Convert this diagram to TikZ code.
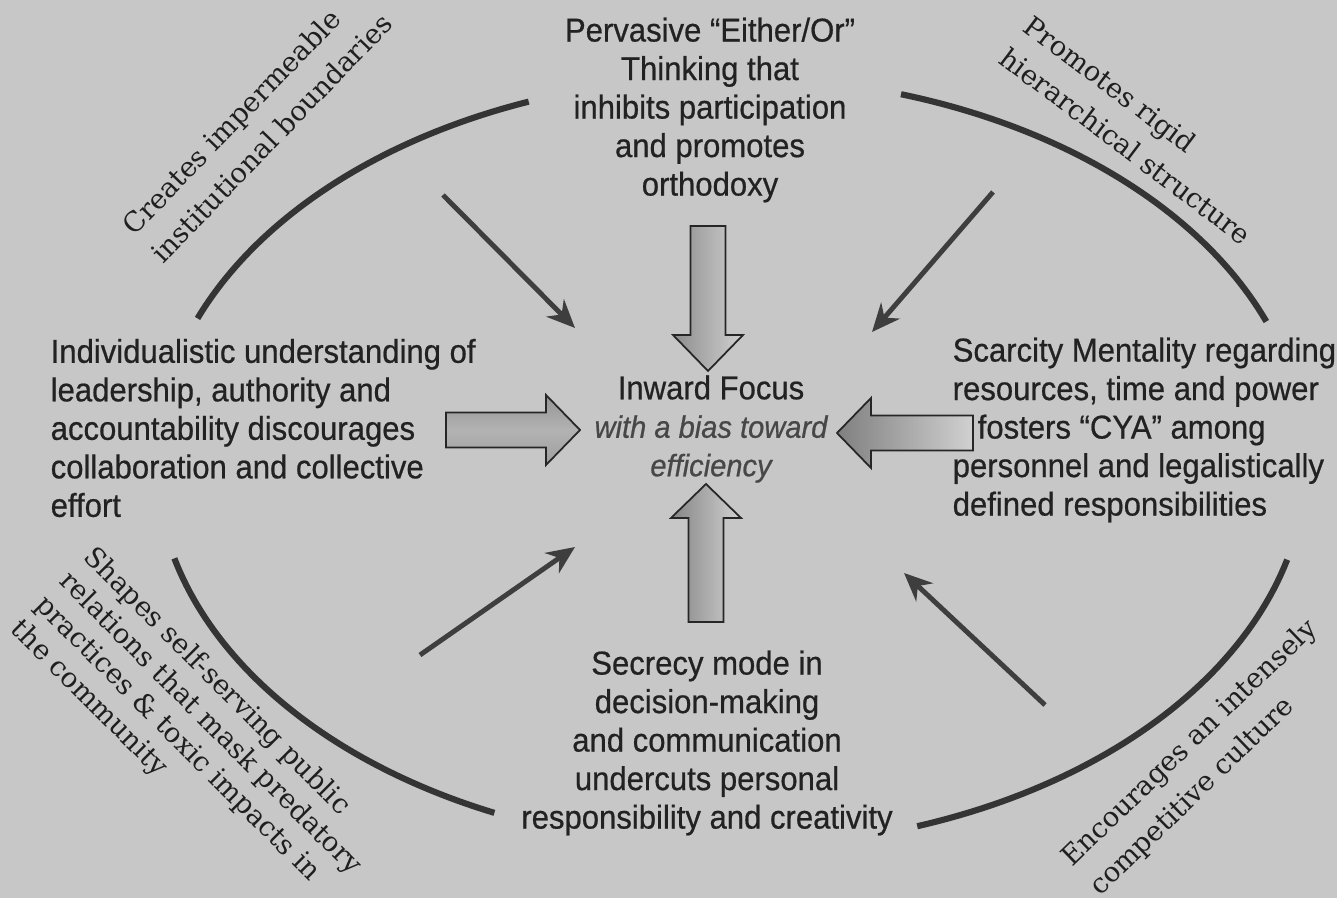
\documentclass[tikz,border=0pt]{standalone}
\usepackage{fontspec}
\setmainfont{Liberation Sans}[FakeStretch=0.94, FakeBold=0.6]
\newfontfamily\slabfont{DejaVu Serif}
\usetikzlibrary{arrows.meta}
\definecolor{paper}{RGB}{199,199,199}
\definecolor{ink}{RGB}{34,34,34}
\definecolor{ringgray}{RGB}{52,52,52}
\definecolor{feedgray}{RGB}{62,62,62}
\tikzset{
  block/.style={font=\fontsize{9.4}{10.95}\selectfont, text=ink, inner sep=0pt},
  slab/.style={font=\slabfont\fontsize{7.8}{11.4}\selectfont, text=black!88, align=left, inner sep=0pt},
  ring/.style={draw=ringgray, line width=1.75pt},
  feed/.style={draw=feedgray, line width=1.4pt, ->},
  bigarrow/.style={draw=black!85, line width=0.5pt},
}

\begin{document}
\begin{tikzpicture}[x=0.01cm, y=-0.01cm, >={Stealth[length=8pt,width=7pt]}]
\useasboundingbox (0,0) rectangle (1337,898);
\fill[paper] (0,0) rectangle (1337,898);

\foreach \a/\b in {201.9/249.4, 287.2/338.6, 14.7/71.1, 114.3/165.5}
  \draw[ring] plot[domain=\a:\b, samples=50] ({731+575*cos(\x)}, {462+385*sin(\x)});

\node[block, align=center] (either) at (710,110) {Pervasive “Either/Or”\\Thinking that\\inhibits participation\\and promotes\\orthodoxy};
\node[block, align=left, anchor=west] (indiv) at (50,428) {Individualistic understanding of\\leadership, authority and\\accountability discourages\\collaboration and collective\\effort};
\node[block, align=left, anchor=west] (scarcity) at (952,430) {Scarcity Mentality regarding\\resources, time and power\\\hspace*{0.25cm}fosters “CYA” among\\personnel and legalistically\\defined responsibilities};
\node[block, align=center] (secrecy) at (707,743) {Secrecy mode in\\decision-making\\and communication\\undercuts personal\\responsibility and creativity};
\node[block, align=center] (focus) at (711,429) {Inward Focus\\\textcolor{black!72}{\fontsize{8.8}{10.95}\selectfont\itshape with a bias toward}\\\textcolor{black!72}{\fontsize{8.8}{10.95}\selectfont\itshape efficiency}};

\node[slab, rotate=46] (creates) at (257,124) {Creates impermeable\\institutional boundaries};
\node[slab, rotate=-37] (promotes) at (1138,130) {Promotes rigid\\hierarchical structure};
\node[slab, rotate=-45, font=\slabfont\fontsize{7.8}{9.7}\selectfont] (shapes) at (198,736) {Shapes self-serving public\\relations that mask predatory\\practices \& toxic impacts in\\the community};
\node[slab, rotate=44] (encourages) at (1204,758) {Encourages an intensely\\competitive culture};

\shade[bigarrow, left color=black!45, right color=black!18]
  (690.5,226) -- (725.5,226) -- (725.5,335) -- (743,335) -- (708,371) -- (673,335) -- (690.5,335) -- cycle;
\shade[bigarrow, left color=black!48, right color=black!18]
  (688.5,622) -- (723.5,622) -- (723.5,518) -- (741,518) -- (706,484) -- (671,518) -- (688.5,518) -- cycle;
\shade[bigarrow, top color=black!42, bottom color=black!38, middle color=black!30]
  (446,412.5) -- (546,412.5) -- (546,395) -- (580,430) -- (546,465) -- (546,447.5) -- (446,447.5) -- cycle;
\shade[bigarrow, left color=black!50, right color=black!18]
  (973,415.5) -- (871,415.5) -- (871,398) -- (837,433) -- (871,468) -- (871,450.5) -- (973,450.5) -- cycle;

\coordinate (ul) at (443,195);
\coordinate (ulhead) at (575,328);
\coordinate (ur) at (993,192);
\coordinate (urhead) at (872,332);
\coordinate (ll) at (420,655);
\coordinate (llhead) at (575,547);
\coordinate (lr) at (1045,705);
\coordinate (lrhead) at (904,573);
\draw[feed] (ul) -- (ulhead);
\draw[feed] (ur) -- (urhead);
\draw[feed] (ll) -- (llhead);
\draw[feed] (lr) -- (lrhead);
\end{tikzpicture}
\end{document}
